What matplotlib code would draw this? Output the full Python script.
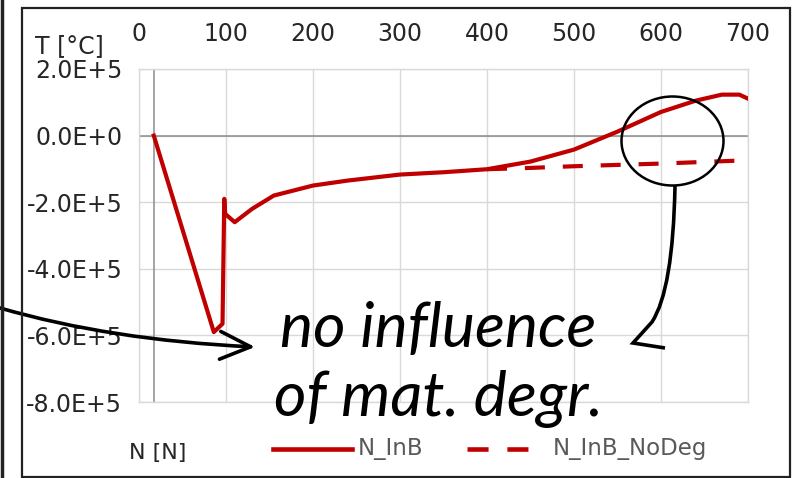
import matplotlib.pyplot as plt
from matplotlib.patches import Ellipse, FancyArrowPatch, PathPatch, Rectangle
from matplotlib.path import Path
from matplotlib.lines import Line2D

# figure size in pixels, used to place annotations
W, H = 798, 478


def px(x, y):
    # pixel position (from top-left) -> figure fraction
    return (x / W, 1 - y / H)


# N_InB (solid), values
n_inb = [17, 86, 96, 98, 99, 110, 130, 155, 200, 240, 300, 350, 400, 450, 500,
         550, 600, 640, 670, 690, 700]
t_inb = [0, -5.9e5, -5.65e5, -1.9e5, -2.35e5, -2.6e5, -2.2e5, -1.8e5, -1.5e5,
         -1.35e5, -1.17e5, -1.1e5, -1.01e5, -0.78e5, -0.42e5, 0.12e5, 0.71e5,
         1.05e5, 1.23e5, 1.23e5, 1.11e5]

# N_InB_NoDeg (dashed), splits off at N = 400
n_nodeg = [400, 450, 500, 550, 600, 650, 700]
t_nodeg = [-1.01e5, -0.97e5, -0.92e5, -0.88e5, -0.84e5, -0.79e5, -0.74e5]

x_ticks = [0, 100, 200, 300, 400, 500, 600, 700]
y_ticks = [2e5, 0, -2e5, -4e5, -6e5, -8e5]
y_labels = ['2.0E+5', '0.0E+0', '-2.0E+5', '-4.0E+5', '-6.0E+5', '-8.0E+5']
legend_labels = ['N_InB', 'N_InB_NoDeg']

red = '#c00000'
txt = '#262626'

fig = plt.figure(figsize=(7.98, 4.78), dpi=100)
ax = fig.add_axes([139 / W, 1 - 402 / H, 609 / W, 333 / H])

ax.plot(n_inb, t_inb, color=red, lw=3, solid_joinstyle='round', zorder=3)
ax.plot(n_nodeg, t_nodeg, color=red, lw=3, ls=(0, (4.8, 4.3)), zorder=3)

ax.set_xlim(0, 700)
ax.set_ylim(-8e5, 2e5)
ax.set_xticks(x_ticks)
ax.set_yticks(y_ticks)
ax.set_yticklabels(y_labels)
ax.xaxis.tick_top()
ax.tick_params(axis='x', length=0, labelsize=17, colors=txt, pad=16.5)
ax.tick_params(axis='y', length=0, labelsize=17, colors=txt, pad=12)
ax.grid(color='#d9d9d9', lw=1)
ax.set_axisbelow(True)
ax.axhline(0, color='#8c8c8c', lw=1.1, zorder=2)
ax.axvline(17, color='#8c8c8c', lw=1.1, zorder=2)
for s in ax.spines.values():
    s.set_color('#d9d9d9')
    s.set_linewidth(1)

# axis titles
fig.text(*px(35, 46), 'T [°C]', fontsize=17, color=txt, ha='left', va='center')
fig.text(*px(158, 453), 'N [N]', fontsize=16, color=txt, ha='center', va='center')

# legend drawn by hand to match the spacing
ly = 1 - 449 / H
fig.add_artist(Line2D([273 / W, 352 / W], [ly, ly], color=red, lw=3.3))
fig.text(358 / W, ly, legend_labels[0], fontsize=16.5, color='#595959', va='center')
fig.add_artist(Line2D([467 / W, 528 / W], [ly, ly], color=red, lw=3.3,
                      ls=(0, (4.6, 4.1))))
fig.text(553 / W, ly, legend_labels[1], fontsize=16.5, color='#595959', va='center')

# big italic note
note_font = ['Lato', 'DejaVu Sans']
fig.text(*px(280, 347), 'no influence', fontsize=45, style='italic',
         family=note_font, va='baseline', ha='left')
fig.text(*px(274, 416), 'of mat. degr.', fontsize=45, style='italic',
         family=note_font, va='baseline', ha='left')

# arrow coming from the left
arr = Path([px(0, 308), px(110, 340), px(255, 347)],
           [Path.MOVETO, Path.CURVE3, Path.CURVE3])
fig.add_artist(FancyArrowPatch(path=arr, transform=fig.transFigure,
                               arrowstyle='->,head_length=2.2,head_width=1.0',
                               mutation_scale=10, color='k', lw=2.6))

# circle around the split and the hooked line
fig.add_artist(Ellipse(px(672.5, 141), 102 / W, 89 / H, transform=fig.transFigure,
                       fill=False, ec='k', lw=1.8))
hook = Path([px(675, 186), px(673, 290), px(652, 322), px(633, 343), px(665, 348)],
            [Path.MOVETO, Path.CURVE3, Path.CURVE3, Path.LINETO, Path.LINETO])
fig.add_artist(PathPatch(hook, transform=fig.transFigure, fill=False, ec='k',
                         lw=2.6, joinstyle='miter'))

# outer frame and the cut-off line at the far left
fig.add_artist(Rectangle((22 / W, 1 - 477 / H), 768 / W, 469 / H,
                         transform=fig.transFigure, fill=False, ec='#222222', lw=1.6))
fig.add_artist(Line2D([2 / W, 2 / W], [0, 1], color='#222222', lw=2.5))

fig.savefig('out.png', dpi=100, facecolor='white')
